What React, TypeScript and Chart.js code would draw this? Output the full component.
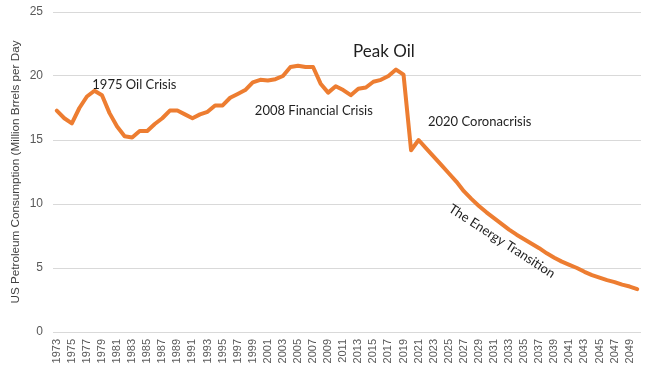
import React, { useEffect, useRef } from "react";
import { Chart, registerables } from "chart.js";

Chart.register(...registerables);

const years: string[] = Array.from({ length: 78 }, (_, i) => String(1973 + i));

const consumption: number[] = [
  17.3, 16.7, 16.3, 17.5, 18.4, 18.85, 18.5, 17.1, 16.05, 15.3,
  15.2, 15.7, 15.7, 16.25, 16.7, 17.3, 17.3, 17.0, 16.7, 17.0,
  17.2, 17.7, 17.7, 18.3, 18.6, 18.9, 19.5, 19.7, 19.65, 19.75,
  20.0, 20.7, 20.8, 20.7, 20.7, 19.4, 18.7, 19.2, 18.9, 18.5,
  19.0, 19.1, 19.55, 19.7, 20.0, 20.5, 20.1, 14.2, 15.0, 14.35,
  13.7, 13.05, 12.4, 11.75, 11.0, 10.4, 9.85, 9.35, 8.9, 8.45,
  8.0, 7.6, 7.25, 6.9, 6.55, 6.15, 5.8, 5.5, 5.25, 5.0,
  4.7, 4.45, 4.25, 4.05, 3.9, 3.7, 3.55, 3.35,
];

const yTicks: number[] = [0, 5, 10, 15, 20, 25];

const noteTexts: string[] = [
  "1975 Oil Crisis",
  "2008 Financial Crisis",
  "Peak Oil",
  "2020 Coronacrisis",
  "The Energy Transition",
];
// anchor positions in data space (fractional year, value)
const noteYears: number[] = [1983.3, 2007.1, 2016.4, 2029.1, 2032.05];
const noteValues: number[] = [19.3, 17.27, 21.9, 16.4, 7.1];
const noteSizes: number[] = [13, 13, 17, 13, 13];
const noteAngles: number[] = [0, 0, 0, 0, 33];

const annotationPlugin = {
  id: "notes",
  afterDatasetsDraw(chart: any) {
    const { ctx, scales } = chart;
    ctx.save();
    ctx.fillStyle = "#1f1f1f";
    ctx.textAlign = "center";
    ctx.textBaseline = "middle";
    noteTexts.forEach((t, i) => {
      const x = scales.x.getPixelForValue(noteYears[i] - 1973);
      const y = scales.y.getPixelForValue(noteValues[i]);
      ctx.save();
      ctx.translate(x, y);
      ctx.rotate((noteAngles[i] * Math.PI) / 180);
      ctx.font = `${noteSizes[i]}px Lato, "Open Sans", sans-serif`;
      ctx.fillText(t, 0, 0);
      ctx.restore();
    });
    ctx.restore();
  },
};

export default function App() {
  const ref = useRef<HTMLCanvasElement | null>(null);

  useEffect(() => {
    document.body.style.margin = "0";
    const canvas = ref.current;
    if (!canvas) return;
    const chart = new Chart(canvas, {
      type: "line",
      data: {
        labels: years,
        datasets: [
          {
            data: consumption,
            borderColor: "#ED7D31",
            backgroundColor: "#ED7D31",
            borderWidth: 4,
            pointRadius: 0,
            tension: 0,
            borderJoinStyle: "round",
            borderCapStyle: "round",
          },
        ],
      },
      options: {
        responsive: false,
        animation: false,
        layout: { padding: { top: 12, right: 11, left: 0, bottom: 0 } },
        plugins: {
          legend: { display: false },
          tooltip: { enabled: false },
        },
        scales: {
          x: {
            offset: true,
            grid: { display: false, drawTicks: false },
            border: { display: false },
            ticks: {
              autoSkip: false,
              maxRotation: 90,
              minRotation: 90,
              padding: 7,
              color: "#595959",
              font: { family: "Arial, 'Liberation Sans', sans-serif", size: 11 },
              callback: (_v: any, i: number) => (i % 2 === 0 ? years[i] : null),
            },
            afterFit: (s: any) => {
              s.height = 41;
              s.paddingLeft = 0;
              s.paddingRight = 0;
            },
          },
          y: {
            min: 0,
            max: 25,
            afterBuildTicks: (s: any) => {
              s.ticks = yTicks.map((v) => ({ value: v }));
            },
            grid: { color: "#D9D9D9", lineWidth: 1, drawTicks: false },
            border: { display: false },
            ticks: {
              padding: 10,
              color: "#595959",
              font: { family: "Arial, 'Liberation Sans', sans-serif", size: 12 },
            },
            title: {
              display: true,
              text: "US Petroleum Consumption (Million Brrels per Day",
              color: "#404040",
              padding: { top: 9, bottom: 0 },
              font: { family: "Arial, 'Liberation Sans', sans-serif", size: 11.7 },
            },
            afterFit: (s: any) => {
              s.width = 53;
              s.paddingTop = 0;
              s.paddingBottom = 0;
            },
          },
        },
      },
      plugins: [annotationPlugin],
    });
    return () => chart.destroy();
  }, []);

  return (
    <div style={{ width: 652, height: 373 }}>
      <canvas ref={ref} width={652} height={373} />
    </div>
  );
}
